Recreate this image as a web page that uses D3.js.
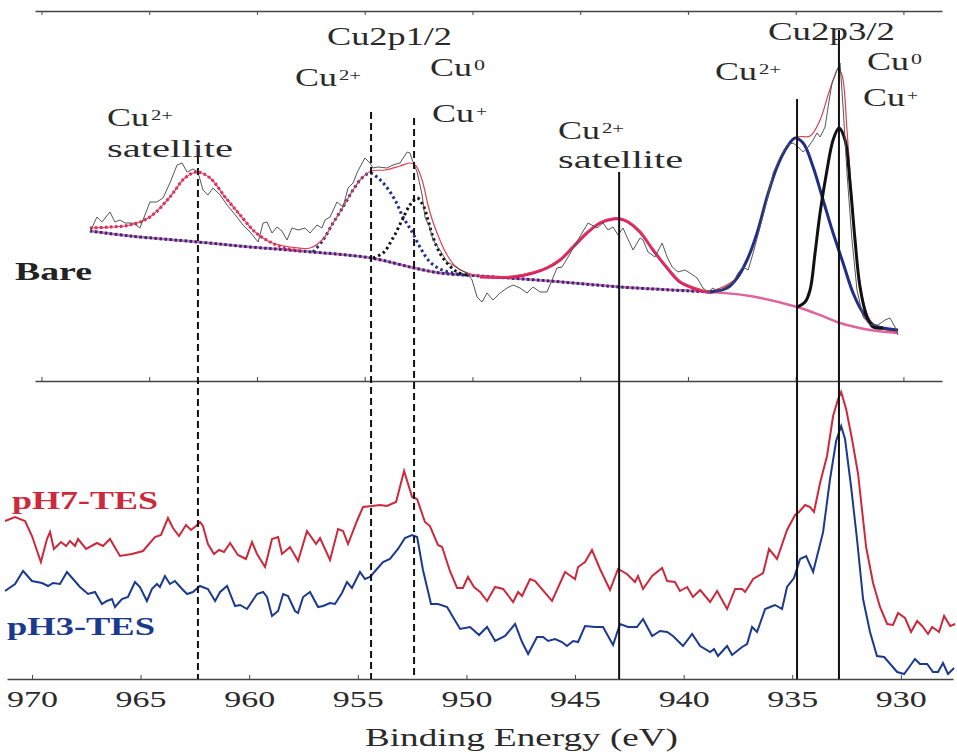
<!DOCTYPE html>
<html>
<head>
<meta charset="utf-8">
<script src="https://cdn.jsdelivr.net/npm/d3@7/dist/d3.min.js"></script>
<style>
  body { margin: 0; background: #fff; }
  svg { display: block; }
  text { font-family: "Liberation Serif", "Times New Roman", serif; fill: #2a2a2a; }
</style>
</head>
<body>
<svg id="chart" width="957" height="756"></svg>
<script>
// binding energy ticks (eV)
const tickEnergies = [970, 965, 960, 955, 950, 945, 940, 935, 930];

// reference lines: energy, top of the line (bare-panel intensity), dashed?
const refLines = [
  { e: 962.36, top: 223, dashed: true },
  { e: 954.39, top: 268, dashed: true },
  { e: 952.41, top: 262, dashed: true },
  { e: 942.97, top: 208, dashed: false },
  { e: 934.78, top: 281, dashed: false },
  { e: 932.85, top: 350, dashed: false }
];

// Bare: raw spectrum [eV, counts a.u.]
const bareRaw = [
  [967.33,148],[967.01,163],[966.78,158],[966.41,168],[966.18,158],[965.95,160],[965.72,157],[965.35,157],
  [965.03,152],[964.57,178],[964.25,178],[963.97,182],[963.65,197],[963.32,215],[963.09,217],[962.86,208],
  [962.59,211],[962.36,208],[962.13,190],[961.90,185],[961.67,192],[961.34,185],[961.02,175],[960.56,163],
  [960.29,155],[959.96,148],[959.59,138],[959.36,157],[959.18,158],[958.95,147],[958.72,153],[958.49,149],
  [958.26,140],[958.03,152],[957.75,150],[957.43,152],[957.20,147],[956.88,155],[956.65,152],[956.51,160],
  [956.28,163],[955.96,178],[955.68,173],[955.45,192],[955.22,197],[955.04,207],[954.90,213],[954.67,222],
  [954.44,217],[954.30,212],[954.07,213],[953.66,212],[953.38,215],[953.06,217],[952.73,228],[952.60,227],
  [952.46,218],[952.27,208],[952.04,185],[951.91,163],[951.68,152],[951.54,140],[951.22,130],[950.89,118],
  [950.62,115],[950.29,110],[949.97,107],[949.74,100],[949.51,83],[949.28,78],[949.05,87],[948.78,80],
  [948.45,87],[948.13,92],[947.85,95],[947.53,92],[947.21,87],[946.93,93],[946.61,88],[946.29,88],
  [946.06,100],[945.83,112],[945.60,113],[945.32,123],[945.00,135],[944.68,147],[944.40,157],[943.99,152],
  [943.71,157],[943.48,150],[943.25,153],[943.02,145],[942.79,152],[942.61,143],[942.33,130],[942.01,142],
  [941.87,140],[941.64,128],[941.32,123],[940.99,137],[940.76,123],[940.53,113],[940.26,108],[939.94,110],
  [939.71,107],[939.38,102],[939.11,92],[938.88,88],[938.65,92],[938.42,88],[938.09,93],[937.73,97],
  [937.50,107],[937.27,113],[937.03,110],[936.80,127],[936.48,153],[936.16,180],[935.88,207],[935.56,223],
  [935.24,235],[934.96,237],[934.73,233],[934.50,228],[934.27,233],[934.04,240],[933.86,247],[933.72,243],
  [933.49,253],[933.35,273],[933.17,297],[932.94,310],[932.80,317],[932.66,273],[932.48,207],[932.25,140],
  [932.02,90],[931.74,63],[931.42,55],[931.05,55],[930.73,60],[930.50,62],[930.27,53],[930.13,45]
];

// Bare: fitted envelope
const bareFit = [
  [967.33,152],[965.49,155],[964.57,163],[963.65,183],[962.96,202],[962.40,208],[961.80,202],[961.11,183],
  [960.42,165],[959.73,148],[959.04,138],[958.12,133],[957.20,132],[956.60,141],[956.14,157],[955.68,173],
  [955.22,190],[954.81,202],[954.39,209],[953.75,210],[953.06,214],[952.60,217],[952.32,214],[952.04,200],
  [951.77,175],[951.54,158],[951.22,140],[950.89,125],[950.52,114],[950.06,108],[949.37,104],[947.85,104],
  [946.93,108],[946.29,113],[945.69,121],[945.09,134],[944.45,148],[943.85,158],[943.25,162],[942.93,162],
  [942.56,159],[942.01,149],[941.41,131],[940.76,113],[940.17,99],[939.57,93],[938.78,89],[937.54,102],
  [937.08,120],[936.62,147],[936.16,183],[935.70,213],[935.24,234],[934.78,243],[934.18,244],[933.72,260],
  [933.35,285],[933.08,302],[932.89,311],[932.71,305],[932.48,250],[932.25,180],[932.02,120],[931.74,80],
  [931.42,60],[930.96,52],[930.13,48]
];

// Bare: Shirley background
const bareBackground = [
  [967.33,149],[965.49,144],[962.36,138],[959.96,133],[957.66,129],[954.39,122],[952.41,112],[951.22,107],
  [949.37,104],[946.15,99],[942.93,93],[938.78,88],[936.94,84],[934.78,73],[933.72,65],[932.80,57],
  [931.42,50],[930.13,47]
];

// Bare: fitted components
const satelliteHigh = [
  [967.33,152],[966.41,153],[965.49,155],[964.57,163],[963.65,183],[962.96,202],[962.40,208],[961.80,202],
  [961.11,183],[960.42,165],[959.73,148],[959.04,138],[958.35,132],[957.66,129]
];
const cu2pHalfCu2 = [
  [957.06,128],[956.60,140],[956.14,157],[955.68,173],[955.22,190],[954.81,202],[954.44,207],[954.12,203],
  [953.75,195],[953.29,180],[952.92,163],[952.50,148],[952.14,133],[951.68,118],[951.12,110],[950.62,107],
  [950.16,105]
];
const cu2pHalfCu0 = [
  [954.30,122],[953.84,127],[953.38,142],[952.96,160],[952.60,175],[952.27,182],[952.00,175],[951.77,160],
  [951.54,143],[951.22,127],[950.89,117],[950.43,108],[949.97,105]
];
const satelliteLow = [
  [949.37,103],[947.85,103],[946.93,107],[946.29,112],[945.69,120],[945.09,133],[944.45,147],[943.85,157],
  [943.25,161],[942.93,161],[942.56,158],[942.01,148],[941.41,130],[940.76,112],[940.17,98],[939.57,92],
  [938.92,88],[938.65,88]
];
const cu2p32Cu2 = [
  [938.78,88],[938.00,92],[937.54,102],[937.08,120],[936.62,147],[936.16,183],[935.70,213],[935.24,233],
  [934.87,242],[934.50,237],[934.04,213],[933.58,180],[933.12,147],[932.66,117],[932.20,87],[931.74,67],
  [931.28,55],[930.82,52],[930.13,50]
];
const cu2p32Cu0 = [
  [934.78,73],[934.41,78],[934.18,90],[933.95,127],[933.72,167],[933.40,210],[933.12,240],[932.85,252],
  [932.57,240],[932.34,197],[932.11,140],[931.88,93],[931.56,63],[931.28,53],[930.82,52]
];

// pH7-TES spectrum
const pH7 = [
  [971.24,158],[970.78,162],[970.32,158],[970.00,143],[969.59,117],[969.31,140],[969.17,147],[968.99,130],
  [968.66,137],[968.43,133],[968.25,138],[968.02,133],[967.88,140],[967.51,130],[967.01,136],[966.73,133],
  [966.41,140],[965.95,123],[965.40,125],[964.89,128],[964.34,142],[964.06,144],[963.74,161],[963.51,151],
  [963.23,143],[962.91,154],[962.68,149],[962.45,153],[962.27,157],[962.13,153],[961.90,135],[961.62,125],
  [961.39,129],[961.16,127],[960.88,136],[960.52,124],[960.15,120],[959.87,137],[959.64,125],[959.27,112],
  [958.95,140],[958.67,142],[958.49,125],[958.12,132],[957.75,118],[957.34,148],[956.92,135],[956.74,141],
  [956.28,119],[955.91,150],[955.68,148],[955.45,135],[955.04,158],[954.76,172],[954.35,173],[953.98,174],
  [953.66,173],[953.24,177],[952.87,208],[952.50,182],[952.27,180],[951.91,157],[951.68,153],[951.31,134],
  [951.12,132],[950.76,108],[950.43,91],[950.16,91],[949.93,102],[949.65,92],[949.37,87],[949.05,78],
  [948.68,92],[948.31,90],[947.85,77],[947.62,87],[947.44,83],[947.07,100],[946.84,98],[946.06,78],
  [945.46,107],[945.00,100],[944.86,112],[944.54,117],[944.22,129],[943.85,110],[943.39,89],[943.02,110],
  [942.61,105],[942.24,97],[942.10,103],[941.87,90],[941.45,103],[940.99,111],[940.76,98],[940.40,97],
  [940.17,88],[939.84,92],[939.57,82],[939.24,89],[938.78,77],[938.46,88],[938.00,70],[937.63,90],
  [937.31,90],[937.17,87],[936.80,100],[936.34,106],[936.07,130],[935.70,120],[935.24,149],[934.87,164],
  [934.69,167],[934.41,174],[934.18,172],[934.00,167],[933.72,196],[933.40,223],[933.12,263],[932.89,280],
  [932.75,287],[932.52,270],[932.25,240],[931.97,205],[931.60,132],[931.28,96],[930.96,72],[930.63,55],
  [930.36,54],[930.13,66],[929.81,61],[929.53,47],[929.25,58],[929.02,53],[928.75,45],[928.56,52],
  [928.24,47],[928.01,63],[927.73,53],[927.50,55]
];

// pH3-TES spectrum
const pH3 = [
  [971.24,88],[970.78,95],[970.41,108],[970.00,98],[969.54,96],[969.26,93],[969.03,96],[968.71,95],
  [968.39,107],[968.11,100],[967.79,92],[967.42,85],[967.10,87],[966.78,75],[966.55,78],[966.32,80],
  [966.18,72],[965.86,80],[965.58,82],[965.26,97],[965.03,92],[964.71,78],[964.48,90],[964.25,95],
  [964.11,92],[963.88,103],[963.65,95],[963.42,98],[963.09,90],[962.86,85],[962.59,87],[962.27,93],
  [961.90,90],[961.57,78],[961.34,87],[961.02,93],[960.65,73],[960.42,74],[960.10,70],[959.64,85],
  [959.36,87],[959.18,82],[958.95,63],[958.67,68],[958.44,85],[958.21,83],[957.89,68],[957.75,66],
  [957.52,82],[957.20,87],[956.83,72],[956.60,73],[956.28,76],[956.05,75],[955.73,86],[955.50,97],
  [955.27,91],[954.90,107],[954.67,100],[954.44,102],[954.12,110],[953.84,117],[953.52,120],[953.15,130],
  [952.83,141],[952.50,144],[952.27,142],[952.00,109],[951.63,75],[951.31,75],[950.89,72],[950.62,62],
  [950.29,50],[949.83,52],[949.42,44],[949.05,52],[948.68,38],[948.22,43],[947.76,55],[947.44,37],
  [947.16,25],[946.75,42],[946.47,42],[946.24,38],[945.92,40],[945.60,37],[945.37,33],[945.09,38],
  [944.86,37],[944.54,53],[944.08,52],[943.71,52],[943.25,34],[942.93,55],[942.56,52],[942.15,52],
  [941.87,60],[941.45,43],[941.09,48],[940.76,47],[940.49,43],[940.03,33],[939.61,45],[939.24,33],
  [938.78,27],[938.60,30],[938.42,23],[938.00,33],[937.77,24],[937.31,32],[937.08,35],[936.85,52],
  [936.62,47],[936.25,70],[936.02,72],[935.79,74],[935.47,70],[935.24,92],[934.92,101],[934.64,120],
  [934.36,123],[934.04,107],[933.58,147],[933.26,200],[932.98,238],[932.75,253],[932.57,240],[932.29,192],
  [932.02,140],[931.74,80],[931.42,47],[931.10,23],[930.77,22],[930.45,14],[930.17,7],[929.85,5],
  [929.58,13],[929.35,20],[929.12,15],[928.79,15],[928.52,7],[928.29,7],[928.06,16],[927.83,5],
  [927.55,11]
];

let svg = d3.select('#chart');

let x = d3.scaleLinear().domain([971.15, 927.60]).range([7, 953]);
let xTop = d3.scaleLinear().domain([970.3, 928.21]).range([35, 942]);
let yTop = d3.scaleLinear().domain([0, 369]).range([380, 11]);
let yBot = d3.scaleLinear().domain([0, 300]).range([679, 379]);

let lineTop = d3.line().x(d => x(d[0])).y(d => yTop(d[1]));
let smoothTop = d3.line().x(d => x(d[0])).y(d => yTop(d[1])).curve(d3.curveCatmullRom);
let lineBot = d3.line().x(d => x(d[0])).y(d => yBot(d[1]));

// frames of the bare panel
svg.append('g').attr('transform', 'translate(0,11)')
    .call(d3.axisBottom(xTop).tickValues(tickEnergies).tickSize(4).tickSizeOuter(0).tickFormat(''));
svg.append('g').attr('transform', 'translate(0,381)')
    .call(d3.axisTop(xTop).tickValues(tickEnergies).tickSize(4).tickSizeOuter(0).tickFormat(''));

// bottom axis
let xAxis = svg.append('g').attr('class', 'xaxis').attr('transform', 'translate(0,679)')
    .call(d3.axisBottom(x).tickValues(tickEnergies).tickSizeInner(-4).tickSizeOuter(0).tickPadding(12));
xAxis.selectAll('text')
    .attr('font-size', 23)
    .attr('textLength', 51)
    .attr('lengthAdjust', 'spacingAndGlyphs')
    .style('font-family', '"Liberation Serif", serif')
    .style('fill', '#2a2a2a');

svg.selectAll('.domain').attr('stroke', '#444').attr('stroke-width', 1.3);
svg.selectAll('.tick line').attr('stroke', '#444');

// bare panel curves
svg.append('path').datum(bareBackground)
    .attr('d', smoothTop).attr('fill', 'none').attr('stroke', '#e0649c').attr('stroke-width', 2.5);
svg.append('path').datum(bareBackground.filter(d => d[0] >= 938.7))
    .attr('d', smoothTop).attr('fill', 'none').attr('stroke', '#1f2f86').attr('stroke-width', 3)
    .attr('stroke-dasharray', '2.5,2.5');
svg.append('path').datum(satelliteHigh)
    .attr('d', smoothTop).attr('fill', 'none').attr('stroke', '#d81f6a').attr('stroke-width', 3)
    .attr('stroke-dasharray', '2.5,2.5');
svg.append('path').datum(cu2pHalfCu2)
    .attr('d', smoothTop).attr('fill', 'none').attr('stroke', '#1f2f86').attr('stroke-width', 3)
    .attr('stroke-dasharray', '2.5,3');
svg.append('path').datum(cu2pHalfCu0)
    .attr('d', smoothTop).attr('fill', 'none').attr('stroke', '#111').attr('stroke-width', 3)
    .attr('stroke-dasharray', '2.5,3');
svg.append('path').datum(satelliteLow)
    .attr('d', smoothTop).attr('fill', 'none').attr('stroke', '#d81f6a').attr('stroke-width', 3);
svg.append('path').datum(bareFit)
    .attr('d', smoothTop).attr('fill', 'none').attr('stroke', '#e0404f').attr('stroke-width', 1.2);
svg.append('path').datum(cu2p32Cu2)
    .attr('d', smoothTop).attr('fill', 'none').attr('stroke', '#1f2f86').attr('stroke-width', 3);
svg.append('path').datum(cu2p32Cu0)
    .attr('d', smoothTop).attr('fill', 'none').attr('stroke', '#111').attr('stroke-width', 3);
svg.append('path').datum(bareRaw)
    .attr('d', lineTop).attr('fill', 'none').attr('stroke', '#555').attr('stroke-width', 1);

// treated samples
svg.append('path').datum(pH7)
    .attr('d', lineBot).attr('fill', 'none').attr('stroke', '#cc2a3c').attr('stroke-width', 2);
svg.append('path').datum(pH3)
    .attr('d', lineBot).attr('fill', 'none').attr('stroke', '#1b3a8e').attr('stroke-width', 2);

// peak position lines
svg.selectAll('.ref').data(refLines).enter()
    .append('line')
    .attr('class', 'ref')
    .attr('x1', d => x(d.e)).attr('x2', d => x(d.e))
    .attr('y1', d => yTop(d.top)).attr('y2', yBot(0))
    .attr('stroke', '#111')
    .attr('stroke-width', 2)
    .attr('stroke-dasharray', d => d.dashed ? '7,4' : null);

// labels
function plain(txt, px, py, w, size, weight, color) {
    svg.append('text')
        .attr('x', px).attr('y', py)
        .attr('font-size', size)
        .attr('font-weight', weight || 'normal')
        .attr('textLength', w)
        .attr('lengthAdjust', 'spacingAndGlyphs')
        .style('fill', color || '#2a2a2a')
        .text(txt);
}
function cu(px, py, sup) {
    plain('Cu', px, py, 42, 25);
    plain(sup, px + 44, py - 6, sup.length * 11, 15);
}

plain('Cu2p1/2', 327, 45, 125, 25);
plain('Cu2p3/2', 768, 40, 127, 25);
cu(295, 86, '2+');
cu(430, 76, '0');
cu(432, 122, '+');
cu(107, 126, '2+');
plain('satellite', 107, 157, 126, 25);
cu(558, 139, '2+');
plain('satellite', 558, 168, 125, 25);
cu(715, 80, '2+');
cu(867, 70, '0');
cu(863, 106, '+');

plain('Bare', 15, 280, 77, 25, 'bold', '#222');
plain('pH7-TES', 12, 509, 146, 26, 'bold', '#cc2a3c');
plain('pH3-TES', 7, 635, 148, 26, 'bold', '#1b3a8e');
plain('Binding Energy (eV)', 365, 746, 313, 26);
</script>
</body>
</html>
